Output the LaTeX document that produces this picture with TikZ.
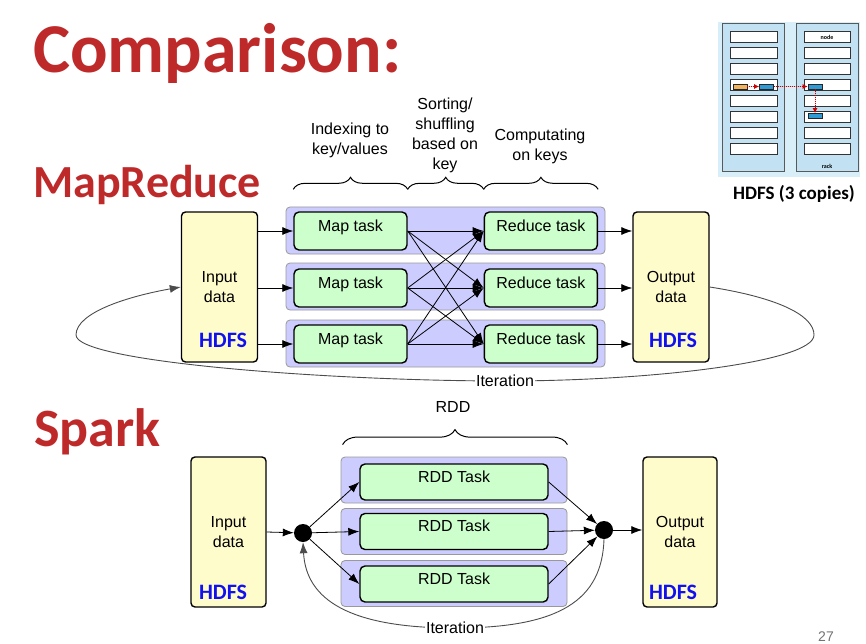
\documentclass[tikz,border=0pt]{standalone}
\usepackage{fontspec}
\setmainfont{Liberation Sans}
\newfontfamily\calibri{Carlito}
\usepackage{xcolor}
\usepackage{tikz}
\usetikzlibrary{shapes,arrows,positioning,fit,arrows.meta,decorations.pathreplacing}

\definecolor{datafill}{HTML}{FFFCCC}
\definecolor{taskfill}{HTML}{CCFFCC}
\definecolor{bandfill}{HTML}{CCCCFF}
\definecolor{titlered}{HTML}{BE2A2A}
\definecolor{hdfsblue}{HTML}{1010F0}
\definecolor{rackbg}{HTML}{D8EEF9}
\definecolor{rackcol}{HTML}{C2E1F3}
\definecolor{blockblue}{HTML}{2E9BD6}
\definecolor{blockorange}{HTML}{F2B35E}

\begin{document}
\begin{tikzpicture}[x=1pt, y=-1pt,
            data/.style={rectangle, rounded corners=4pt, draw=black, fill=datafill, line width=1.4pt, minimum width=76pt, minimum height=150pt, align=center, font=\fontsize{16}{20}\selectfont, inner sep=0pt},
            hdfs/.style={anchor=base, inner sep=0pt, text=hdfsblue, font=\calibri\bfseries\fontsize{22}{24}\selectfont},
            band/.style={rectangle, rounded corners=4pt, draw=black!40, fill=bandfill, line width=0.8pt, inner sep=0pt},
            task/.style={rectangle, rounded corners=5pt, draw=black, fill=taskfill, line width=1.4pt, text height=12pt, text depth=12pt, inner sep=0pt, font=\fontsize{16}{18}\selectfont},
            flow/.style={-{Latex[length=11pt,width=8pt]}, line width=0.8pt},
            loopline/.style={line width=0.9pt, draw=black!70},
            iterlabel/.style={fill=white, inner sep=1pt, font=\fontsize{16}{18}\selectfont},
            dot/.style={circle, fill=black, minimum size=18pt, inner sep=0pt},
            caption/.style={align=center, font=\fontsize{16}{20}\selectfont},
            heading/.style={anchor=base west, inner sep=0pt, text=titlered},
            bracket/.style={decorate, decoration={brace, amplitude=12pt}, line width=1pt},
            slot/.style={rectangle, draw=black!80, fill=white, line width=1pt, minimum height=11pt, inner sep=0pt},
            block/.style={rectangle, draw=black!85, line width=0.7pt, minimum width=14pt, minimum height=5pt, inner sep=0pt},
            replica/.style={-{Latex[length=5pt,width=5pt]}, draw=red!80!black, fill=red!80!black, densely dotted, line width=1pt}
        ]
        \useasboundingbox (0,0) rectangle (866,644);

        % headings
        \node[heading, font=\calibri\bfseries\fontsize{70}{70}\selectfont] (title) at (33,73) {Comparison:};
        \node[heading, font=\calibri\bfseries\fontsize{46}{46}\selectfont] (mrhead) at (33,197) {MapReduce};
        \node[heading, font=\calibri\bfseries\fontsize{54}{54}\selectfont] (sparkhead) at (34,446) {Spark};

        % HDFS racks
        \fill[rackbg] (718,22) rectangle (860,177);
        \filldraw[fill=rackcol, draw=black!65, line width=1pt] (722,24) rectangle (784,172);
        \filldraw[fill=rackcol, draw=black!65, line width=1pt] (796,24) rectangle (858,172);
        \foreach \i in {0,...,7} {
            \node[slot, minimum width=47pt] (lslot\i) at (753.5,37.5+16*\i) {};
            \node[slot, minimum width=46pt] (rslot\i) at (827,37.5+16*\i) {};
        }
        \node[font=\calibri\bfseries\fontsize{6}{6}\selectfont] (nodetag) at (rslot0) {node};
        \node[font=\calibri\bfseries\fontsize{6}{6}\selectfont] (racktag) at (827,166) {rack};
        \node[block, fill=blockorange] (blkA) at (740,86.5) {};
        \node[block, fill=blockblue] (blkB) at (766.5,86.5) {};
        \node[block, fill=blockblue] (blkC) at (815,86.5) {};
        \node[block, fill=blockblue] (blkD) at (815,116) {};
        \draw[replica] (blkA) -- (blkB);
        \draw[replica] (blkB) -- (blkC);
        \draw[replica] (blkC) -- (blkD);
        \node[font=\calibri\bfseries\fontsize{19}{20}\selectfont] (hdfscap) at (794,194) {HDFS (3 copies)};

        % MapReduce
        \node[data] (in1) at (219.5,287) {Input\\data};
        \node[hdfs] (in1hdfs) at (223,347) {HDFS};
        \node[data] (out1) at (671,287) {Output\\data};
        \node[hdfs] (out1hdfs) at (673,347) {HDFS};

        \node[band, minimum width=319pt, minimum height=47pt] (mrband1) at (445.5,230.5) {};
        \node[band, minimum width=319pt, minimum height=47pt] (mrband2) at (445.5,286.5) {};
        \node[band, minimum width=319pt, minimum height=47pt] (mrband3) at (445.5,343.5) {};

        \node[task, minimum width=113pt, minimum height=38pt] (map1) at (350.5,231) {Map task};
        \node[task, minimum width=113pt, minimum height=38pt] (map2) at (350.5,288) {Map task};
        \node[task, minimum width=113pt, minimum height=38pt] (map3) at (350.5,344) {Map task};
        \node[task, minimum width=113pt, minimum height=38pt] (red1) [right=76pt of map1] {Reduce task};
        \node[task, minimum width=113pt, minimum height=38pt] (red2) [right=76pt of map2] {Reduce task};
        \node[task, minimum width=113pt, minimum height=38pt] (red3) [right=76pt of map3] {Reduce task};

        \draw[flow] (in1.east |- map1.west) -- (map1.west);
        \draw[flow] (in1.east |- map2.west) -- (map2.west);
        \draw[flow] (in1.east |- map3.west) -- (map3.west);
        \draw[flow] (map1.east) -- (red1.west);
        \draw[flow] (map1.east) -- (red2.west);
        \draw[flow] (map1.east) -- (red3.west);
        \draw[flow] (map2.east) -- (red1.west);
        \draw[flow] (map2.east) -- (red2.west);
        \draw[flow] (map2.east) -- (red3.west);
        \draw[flow] (map3.east) -- (red1.west);
        \draw[flow] (map3.east) -- (red2.west);
        \draw[flow] (map3.east) -- (red3.west);
        \draw[flow] (red1.east) -- (out1.west |- red1.east);
        \draw[flow] (red2.east) -- (out1.west |- red2.east);
        \draw[flow] (red3.east) -- (out1.west |- red3.east);

        \draw[loopline, -{Latex[length=11pt,width=8pt]}] (out1.east) .. controls (780,298) and (814,316) .. (814,335)
            .. controls (814,362) and (650,381) .. (505,381) node[iterlabel] (iter1) {Iteration}
            .. controls (330,381) and (76,362) .. (76,335) .. controls (76,312) and (130,296) .. (in1.west);

        \draw[bracket] ([yshift=22pt]map1.north west) -- ([yshift=22pt]map1.north east);
        \draw[bracket] ([yshift=22pt]map1.north east) -- ([yshift=22pt]red1.north west);
        \draw[bracket] ([yshift=22pt]red1.north west) -- ([yshift=22pt]red1.north east);
        \node[caption] (phase1) at (350,140) {Indexing to\\key/values};
        \node[caption] (phase2) at (445,135) {Sorting/\\shuffling\\based on\\key};
        \node[caption] (phase3) at (540,146) {Computating\\on keys};

        % Spark
        \node[data, minimum width=75pt] (in2) at (228.5,532) {Input\\data};
        \node[hdfs] (in2hdfs) at (223,599) {HDFS};
        \node[data, minimum width=74pt] (out2) at (680,532) {Output\\data};
        \node[hdfs] (out2hdfs) at (673,599) {HDFS};

        \node[band, minimum width=226pt, minimum height=46pt] (rddband1) at (454,480) {};
        \node[band, minimum width=226pt, minimum height=46pt] (rddband2) at (454,531.5) {};
        \node[band, minimum width=226pt, minimum height=46pt] (rddband3) at (454,583.5) {};
        \node[task, minimum width=188pt, minimum height=36pt] (rdd1) at (454,482) {RDD Task};
        \node[task, minimum width=188pt, minimum height=36pt] (rdd2) at (454,531.5) {RDD Task};
        \node[task, minimum width=188pt, minimum height=36pt] (rdd3) at (454,584) {RDD Task};

        \node[dot] (split) at (303,533) {};
        \node[dot] (merge) at (604,530) {};

        \draw[flow] (in2.east) -- (split);
        \draw[flow] (split) -- (rdd1.west);
        \draw[flow] (split) -- (rdd2.west);
        \draw[flow] (split) -- (rdd3.west);
        \draw[flow] (rdd1.east) -- (merge);
        \draw[flow] (rdd2.east) -- (merge);
        \draw[flow] (rdd3.east) -- (merge);
        \draw[flow] (merge) -- (merge -| out2.west);

        \draw[loopline, -{Latex[length=11pt,width=8pt]}] (merge.south) .. controls (602,600) and (560,628) .. (455,628) node[iterlabel] (iter2) {Iteration}
            .. controls (350,628) and (306,600) .. (split.south);

        \draw[bracket, decoration={brace, amplitude=15pt}] ([yshift=12pt,xshift=2pt]rddband1.north west) -- ([yshift=12pt]rddband1.north east);
        \node[caption] (rddcap) at (453,407) {RDD};

        \node[text=black!55, font=\fontsize{14}{14}\selectfont] (pagenum) at (826,637) {27};
    \end{tikzpicture}
\end{document}
